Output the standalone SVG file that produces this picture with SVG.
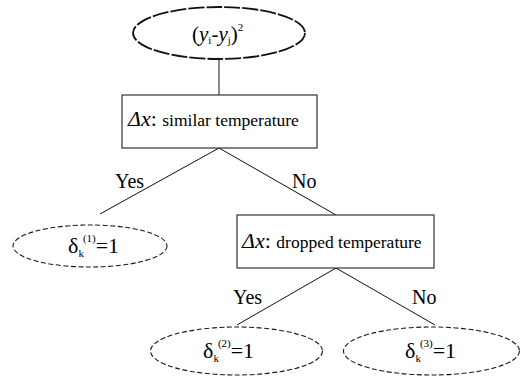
<svg xmlns="http://www.w3.org/2000/svg" width="521" height="378" viewBox="0 0 521 378">
<style>
svg text, svg tspan{font-family:'Liberation Serif','Times New Roman',serif !important;}
.leaf{fill:#fff;stroke:#1a1a1a;stroke-width:1.1;stroke-dasharray:5,2.5;}
.box{fill:#fff;stroke:#333;stroke-width:1.2;}
.conn{stroke:#111;stroke-width:1;fill:none;}
</style>
<g id="connectors">
<line x1="219" y1="59" x2="219" y2="95" stroke="#666" stroke-width="1.5"/>
<line class="conn" x1="219" y1="148" x2="100" y2="214"/>
<line class="conn" x1="219" y1="148" x2="336" y2="215"/>
<line class="conn" x1="336" y1="268" x2="237" y2="325"/>
<line class="conn" x1="336" y1="268" x2="435" y2="325"/>
<text x="115" y="188" font-size="20" font-family="Times New Roman">Yes</text>
<text x="292" y="188" font-size="20" font-family="Times New Roman">No</text>
<text x="233" y="304" font-size="20" font-family="Times New Roman">Yes</text>
<text x="412" y="304" font-size="20" font-family="Times New Roman">No</text>
</g>
<g id="root">
<ellipse cx="219" cy="33" rx="86" ry="26" fill="#fff" stroke="#111" stroke-width="1.8" stroke-dasharray="16,2"/>
<text x="192" y="41" font-size="21" font-family="Times New Roman">(<tspan font-style="italic">y</tspan><tspan font-size="11" dy="3">i</tspan><tspan dy="-3">-</tspan><tspan font-style="italic">y</tspan><tspan font-size="11" dy="3">j</tspan><tspan dy="-3">)</tspan><tspan font-size="11" dy="-10">2</tspan></text>
</g>
<g id="decision1">
<rect class="box" x="122" y="95" width="195" height="53"/>
<text x="128" y="126" font-family="Times New Roman"><tspan font-size="22" font-style="italic">&#916;x</tspan><tspan font-size="22">: </tspan><tspan font-size="17.5">similar temperature</tspan></text>
</g>
<g id="leaf1">
<ellipse class="leaf" cx="90" cy="246" rx="77" ry="21"/>
<text x="68" y="253" font-size="22" font-family="Times New Roman">&#948;<tspan font-size="11" dy="4">k</tspan><tspan font-size="11" dx="-1" dy="-15">(1)</tspan><tspan dy="11">=1</tspan></text>
</g>
<g id="decision2">
<rect class="box" x="237" y="215" width="197" height="53"/>
<text x="242" y="248" font-family="Times New Roman"><tspan font-size="22" font-style="italic">&#916;x</tspan><tspan font-size="22">: </tspan><tspan font-size="17.5">dropped temperature</tspan></text>
</g>
<g id="leaf2">
<ellipse class="leaf" cx="236.5" cy="351" rx="86" ry="24"/>
<text x="203" y="358" font-size="22" font-family="Times New Roman">&#948;<tspan font-size="11" dy="4">k</tspan><tspan font-size="11" dx="-1" dy="-15">(2)</tspan><tspan dy="11">=1</tspan></text>
</g>
<g id="leaf3">
<ellipse class="leaf" cx="431.5" cy="351" rx="88" ry="24"/>
<text x="405" y="358" font-size="22" font-family="Times New Roman">&#948;<tspan font-size="11" dy="4">k</tspan><tspan font-size="11" dx="-1" dy="-15">(3)</tspan><tspan dy="11">=1</tspan></text>
</g>
</svg>
